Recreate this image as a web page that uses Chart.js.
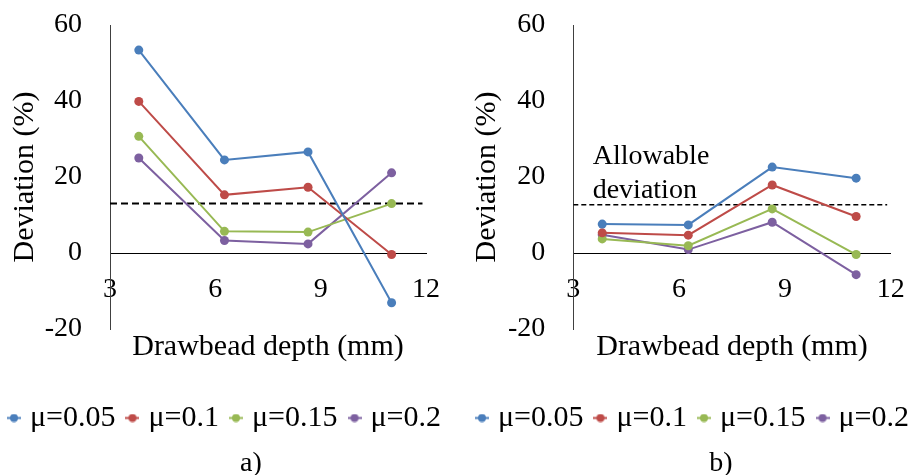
<!DOCTYPE html>
<html>
<head>
<meta charset="utf-8">
<script src="https://cdn.jsdelivr.net/npm/chart.js@4/dist/chart.umd.min.js"></script>
<style>
  html, body { margin: 0; padding: 0; background: #fff; overflow: hidden; width: 910px; height: 475px; position: relative; }
  canvas { position: absolute; top: 0; }
  .cap { position: absolute; top: 462px; font: 28px "Liberation Serif", "Times New Roman", serif; color: #000;
         transform: translate(-50%, -50%); line-height: 1; white-space: nowrap; }
</style>
</head>
<body>
<canvas id="chartA" width="466" height="475" style="left:-6px"></canvas>
<canvas id="chartB" width="464" height="475" style="left:463px"></canvas>
<div class="cap" style="left:251px">a)</div>
<div class="cap" style="left:721px">b)</div>
<script>
// Drawbead depth (mm) at which each deviation was measured
const depths = [3.82, 6.26, 8.64, 11.02];
const frictionLabels = ['μ=0.05', 'μ=0.1', 'μ=0.15', 'μ=0.2'];

// Panel a) deviation (%)
const devA_mu005 = [53.4, 24.5, 26.6, -13.1];
const devA_mu010 = [39.9, 15.3, 17.3, -0.4];
const devA_mu015 = [30.7, 5.7, 5.5, 13.0];
const devA_mu020 = [25.0, 3.3, 2.4, 21.1];

// Panel b) deviation (%)
const devB_mu005 = [7.6, 7.4, 22.6, 19.7];
const devB_mu010 = [5.3, 4.7, 17.9, 9.6];
const devB_mu015 = [3.7, 1.9, 11.6, -0.4];
const devB_mu020 = [4.8, 0.9, 8.1, -5.7];

// Allowable deviation limit (%) and the depth range it spans
const allowableA = 13.0;
const allowableB = 12.7;
const allowableSpan = [3, 11.9];

// Axis ticks
const xTicks = [3, 6, 9, 12];
const yTicks = [-20, 0, 20, 40, 60];

const seriesColors = ['#4A7EBB', '#BE4B48', '#98B954', '#7D60A0'];
const serif = '"Liberation Serif", "Times New Roman", serif';
const tickFont = { family: serif, size: 28 };
const titleFont = { family: serif, size: 30 };
const legendFont = { family: serif, size: 30 };

Chart.defaults.animation = false;

// Small line-with-dot swatch used as the legend marker
function legendMark(color) {
  const c = document.createElement('canvas');
  c.width = 14; c.height = 9;
  const g = c.getContext('2d');
  g.strokeStyle = color; g.lineWidth = 2;
  g.beginPath(); g.moveTo(0, 4.5); g.lineTo(14, 4.5); g.stroke();
  g.fillStyle = color;
  g.beginPath(); g.arc(7, 4.5, 4, 0, Math.PI * 2); g.fill();
  return c;
}
const legendMarks = seriesColors.map(legendMark);

// Free text placed at data coordinates
const notePlugin = {
  id: 'note',
  afterDatasetsDraw(chart, args, o) {
    if (!o || !o.lines) return;
    const { ctx, scales: { x, y } } = chart;
    ctx.save();
    ctx.font = '28px ' + serif;
    ctx.fillStyle = '#000';
    ctx.textAlign = 'left';
    ctx.textBaseline = 'alphabetic';
    o.lines.forEach((t, i) => ctx.fillText(t, x.getPixelForValue(o.x), y.getPixelForValue(o.y[i])));
    ctx.restore();
  }
};

function makeChart(id, series, allowable, cfg) {
  const datasets = series.map((vals, i) => ({
    label: frictionLabels[i],
    data: depths.map((d, k) => ({ x: d, y: vals[k] })),
    borderColor: seriesColors[i],
    backgroundColor: seriesColors[i],
    pointBackgroundColor: seriesColors[i],
    borderWidth: 2,
    pointRadius: 4.5,
    pointBorderWidth: 0,
    tension: 0,
    xAxisID: 'x',
    yAxisID: 'y'
  }));
  datasets.push({
    label: 'Allowable deviation',
    data: allowableSpan.map(d => ({ x: d, y: allowable })),
    borderColor: '#000',
    borderWidth: cfg.dashWidth,
    borderDash: cfg.dash,
    pointRadius: 0,
    xAxisID: 'x',
    yAxisID: 'y'
  });

  return new Chart(document.getElementById(id), {
    type: 'line',
    data: { datasets },
    plugins: [notePlugin],
    options: {
      responsive: false,
      devicePixelRatio: 1,
      layout: { padding: { left: 0, right: 0, top: 25, bottom: 32 } },
      plugins: {
        tooltip: { enabled: false },
        title: { display: false },
        note: cfg.note || {},
        legend: {
          position: 'bottom',
          labels: {
            font: legendFont,
            color: '#000',
            usePointStyle: true,
            pointStyleWidth: 2,
            padding: 16,
            filter: item => item.datasetIndex < frictionLabels.length,
            generateLabels(chart) {
              const items = Chart.defaults.plugins.legend.labels.generateLabels(chart);
              items.forEach(it => { if (it.datasetIndex < legendMarks.length) it.pointStyle = legendMarks[it.datasetIndex]; });
              return items;
            }
          }
        }
      },
      scales: {
        x: {
          type: 'linear',
          position: { y: 0 },
          min: xTicks[0],
          max: xTicks[xTicks.length - 1],
          afterBuildTicks: s => { s.ticks = xTicks.map(v => ({ value: v })); },
          ticks: { font: tickFont, color: '#000', padding: 20, autoSkip: false, maxRotation: 0 },
          grid: { display: false, drawTicks: false },
          border: { display: true, color: '#000', width: 1 }
        },
        y: {
          type: 'linear',
          position: 'left',
          min: yTicks[0],
          max: yTicks[yTicks.length - 1],
          afterBuildTicks: s => { s.ticks = yTicks.map(v => ({ value: v })); },
          ticks: { font: tickFont, color: '#000', padding: 28 },
          grid: { display: false, drawTicks: false },
          border: { display: true, color: '#404040', width: 1 },
          title: { display: true, text: 'Deviation (%)', font: titleFont, color: '#000', padding: { top: cfg.yTitlePad, bottom: 0 } },
          afterFit: s => { s.width = cfg.yAxisWidth; s.paddingTop = 0; s.paddingBottom = 0; }
        },
        xTitle: {
          type: 'linear',
          axis: 'x',
          position: 'bottom',
          display: true,
          ticks: { display: false },
          grid: { display: false, drawTicks: false },
          border: { display: false },
          title: { display: true, text: 'Drawbead depth (mm)', font: titleFont, color: '#000', padding: { top: 0, bottom: 22 } }
        },
        yRight: {
          type: 'linear',
          axis: 'y',
          position: 'right',
          display: true,
          ticks: { display: false },
          grid: { display: false, drawTicks: false },
          border: { display: false },
          afterFit: s => { s.width = cfg.rightWidth; s.paddingTop = 0; s.paddingBottom = 0; }
        }
      }
    }
  });
}

makeChart('chartA', [devA_mu005, devA_mu010, devA_mu015, devA_mu020], allowableA, {
  yAxisWidth: 116, rightWidth: 32.3, yTitlePad: 13, dash: [7, 4], dashWidth: 2
});

makeChart('chartB', [devB_mu005, devB_mu010, devB_mu015, devB_mu020], allowableB, {
  yAxisWidth: 110.3, rightWidth: 36.3, yTitlePad: 6, dash: [5, 3], dashWidth: 1.5,
  note: { lines: ['Allowable', 'deviation'], x: 3.55, y: [23.4, 14.6] }
});
</script>
</body>
</html>
